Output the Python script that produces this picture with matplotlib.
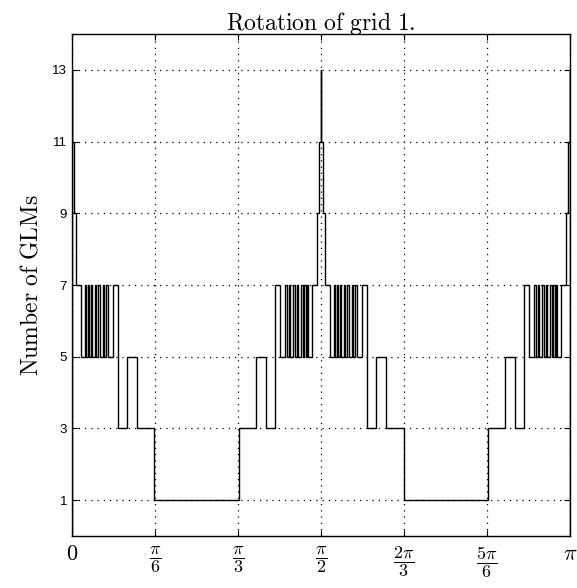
import numpy as np
import matplotlib
matplotlib.use('Agg')
import matplotlib.pyplot as plt

plt.rcParams['mathtext.fontset'] = 'cm'
plt.rcParams['font.family'] = 'Liberation Sans'

# Breakpoints of the step function (degrees) and value on each interval
edges_deg = [0, 0.15, 0.8, 1.5, 3.2, 4.6, 5.1, 5.6, 6.2, 6.7, 7.3, 8.2, 8.7, 9.5,
             10.0, 11.2, 11.7, 12.4, 13.0, 14.8, 16.6, 19.9, 23.5, 29.8,
             60.2, 66.5, 70.1, 73.4, 75.2, 77.0, 77.6, 78.3, 78.8, 80.0, 80.5,
             81.3, 81.8, 82.7, 83.3, 83.8, 84.4, 84.9, 85.4, 86.8, 88.5, 89.2,
             89.85, 90.15, 90.8, 91.5, 93.2, 94.6, 95.1, 95.6, 96.2, 96.7, 97.3,
             98.2, 98.7, 99.5, 100.0, 101.2, 101.7, 102.4, 103.0, 104.8, 106.6,
             109.9, 113.5, 119.8, 150.2, 156.5, 160.1, 163.4, 165.2, 167.0, 167.6,
             168.3, 168.8, 170.0, 170.5, 171.3, 171.8, 172.7, 173.3, 173.8, 174.4,
             174.9, 175.4, 176.8, 178.5, 179.2, 179.85, 180]
n_glms = [13, 11, 9, 7, 5, 7, 5, 7, 5, 7, 5, 7, 5, 7, 5, 7, 5, 7, 5, 7, 3, 5, 3, 1,
          3, 5, 3, 7, 5, 7, 5, 7, 5, 7, 5, 7, 5, 7, 5, 7, 5, 7, 5, 7, 9, 11,
          13, 11, 9, 7, 5, 7, 5, 7, 5, 7, 5, 7, 5, 7, 5, 7, 5, 7, 5, 7, 3, 5, 3, 1,
          3, 5, 3, 7, 5, 7, 5, 7, 5, 7, 5, 7, 5, 7, 5, 7, 5, 7, 5, 7, 9, 11, 13]

xtick_vals = [0, np.pi/6, np.pi/3, np.pi/2, 2*np.pi/3, 5*np.pi/6, np.pi]
xtick_labels = [r'$0$', r'$\dfrac{\pi}{6}$', r'$\dfrac{\pi}{3}$', r'$\dfrac{\pi}{2}$',
                r'$\dfrac{2\pi}{3}$', r'$\dfrac{5\pi}{6}$', r'$\pi$']
ytick_vals = [1, 3, 5, 7, 9, 11, 13]

fig = plt.figure(figsize=(5.77, 5.88), dpi=100)
ax = fig.add_axes([0.1248, 0.0884, 0.8632, 0.8536])

ax.stairs(n_glms, np.deg2rad(edges_deg), color='black', linewidth=1.0)

ax.set_xlim(0, np.pi)
ax.set_ylim(0, 14)
ax.set_xticks(xtick_vals)
ax.set_xticklabels(xtick_labels, fontsize=13)
for lab in (ax.get_xticklabels()[0], ax.get_xticklabels()[-1]):
    lab.set_fontsize(16)
ax.set_yticks(ytick_vals)
ax.set_yticklabels([str(v) for v in ytick_vals], fontsize=9.5)
ax.tick_params(direction='in', top=True, right=True, length=4, width=0.8)
ax.tick_params(axis='x', pad=6)
ax.grid(True, linestyle=(0, (1, 4)), color='black', linewidth=0.9)
for s in ax.spines.values():
    s.set_linewidth(1.0)

ax.set_title(r'$\mathrm{Rotation\ of\ grid\ 1.}$', fontsize=17, pad=3)
ax.set_ylabel(r'$\mathrm{Number\ of\ GLMs}$', fontsize=17, labelpad=7)

fig.savefig('out.png', dpi=100)
